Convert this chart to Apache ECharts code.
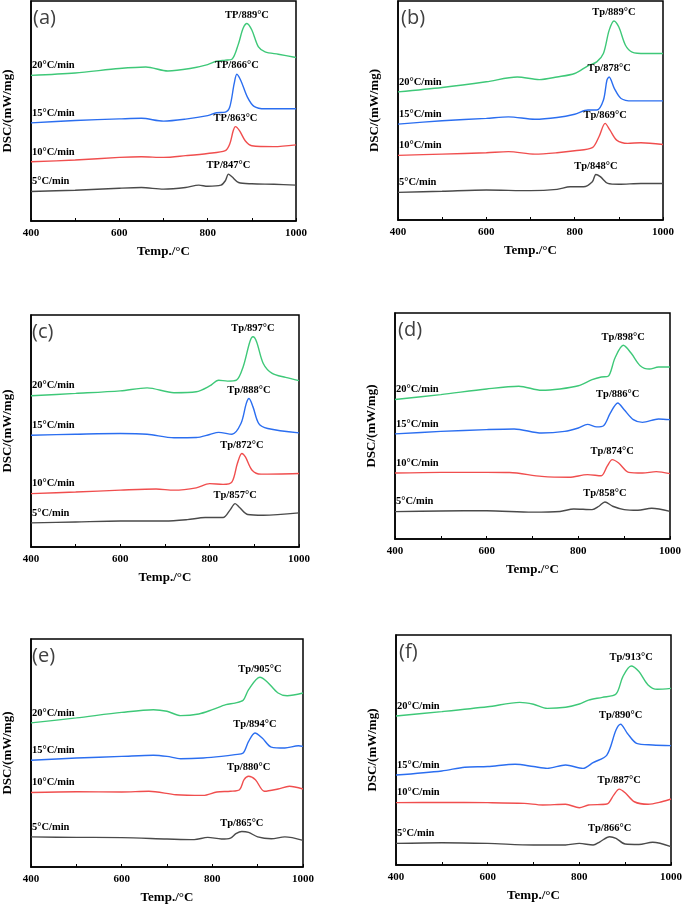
<!DOCTYPE html>
<html><head><meta charset="utf-8">
<script src="https://cdn.jsdelivr.net/npm/echarts@6/dist/echarts.min.js"></script>
<style>html,body{margin:0;padding:0;background:#fff}#c{width:685px;height:910px}</style>
</head><body><div id="c"></div>
<script>
// ---------- DATA ----------
const panelLetters = ['(a)','(b)','(c)','(d)','(e)','(f)'];
const rateLabels = ['20°C/min','15°C/min','10°C/min','5°C/min'];
const peakPrefix = ['TP/','Tp/','Tp/','Tp/','Tp/','Tp/'];
const xTickLabels = [400,600,800,1000];
const xAxisTitle = 'Temp./°C';
const yAxisTitle = 'DSC/(mW/mg)';
const peakTemps = [
  [889,866,863,847],
  [889,878,869,848],
  [897,888,872,857],
  [898,886,874,858],
  [905,894,880,865],
  [913,890,887,866]
];
// curves: [temperature °C, DSC signal (arbitrary offset units)]
const a20 = [[400,66.2],[500,67.3],[600,69.3],[660,70.0],[710,68.2],[760,69.3],[800,71.1],[820,72.6],[840,73.1],[855,73.5],[870,80.7],[880,87.5],[889,89.8],[900,86.8],[915,79.1],[930,76.9],[960,75.8],[1000,74.3]];
const a15 = [[400,44.6],[500,45.7],[600,46.4],[650,46.7],[700,45.4],[750,46.3],[800,47.9],[820,49.2],[840,49.5],[850,51.8],[860,62.4],[866,66.7],[875,63.9],[890,56.3],[905,52.1],[930,51.0],[1000,51.0]];
const a10 = [[400,26.9],[500,27.7],[600,28.9],[650,29.2],[700,28.9],[750,29.7],[800,30.7],[840,32.0],[850,35.0],[858,41.1],[863,42.9],[872,41.1],[885,36.5],[900,34.2],[950,33.8],[1000,34.6]];
const a5  = [[400,13.4],[500,14.0],[600,14.9],[650,15.2],[700,14.5],[750,15.2],[780,16.3],[800,15.8],[830,16.3],[840,18.3],[847,21.3],[855,20.1],[870,17.5],[900,16.9],[950,16.7],[1000,16.3]];

const b20 = [[400,58.5],[500,60.5],[600,63.1],[670,65.3],[720,64.1],[760,65.3],[800,66.9],[830,70.4],[850,72.2],[865,76.0],[878,86.6],[889,90.9],[900,88.1],[915,79.8],[930,76.7],[960,76.0],[1000,76.0]];
const b15 = [[400,43.8],[500,45.3],[600,46.4],[650,47.1],[710,46.0],[760,46.8],[800,48.3],[830,50.2],[850,50.2],[865,54.7],[873,63.8],[878,65.3],[890,60.0],[905,55.5],[930,54.4],[1000,54.4]];
const b10 = [[400,29.5],[500,30.1],[600,30.7],[650,31.2],[710,30.1],[760,30.7],[800,31.6],[840,33.0],[855,38.0],[869,44.1],[880,41.0],[895,36.5],[920,35.0],[950,35.3],[1000,34.5]];
const b5  = [[400,12.6],[500,13.1],[600,13.7],[700,13.4],[760,14.0],[790,15.2],[820,15.2],[840,17.5],[848,20.8],[858,19.8],[875,16.7],[900,16.3],[950,16.7],[1000,16.7]];

const c20 = [[400,65.2],[500,66.2],[600,67.3],[660,68.6],[720,66.5],[770,66.9],[800,69.4],[820,71.9],[840,71.5],[860,71.9],[875,77.7],[890,88.5],[897,90.6],[905,88.5],[920,79.1],[940,74.8],[970,73.1],[1000,71.7]];
const c15 = [[400,48.2],[500,48.6],[600,48.9],[660,48.6],[720,47.1],[770,47.2],[800,48.5],[820,49.4],[850,48.6],[870,53.2],[882,61.9],[888,64.0],[897,60.4],[910,53.2],[930,51.1],[1000,49.2]];
const c10 = [[400,23.0],[500,23.7],[600,24.5],[680,25.0],[720,24.5],[770,25.5],[800,27.3],[830,27.0],[850,28.1],[862,36.0],[872,40.3],[880,38.8],[895,33.1],[915,31.4],[1000,31.7]];
const c5  = [[400,10.4],[500,10.8],[600,11.2],[700,11.2],[750,11.8],[790,12.7],[830,12.7],[845,15.8],[857,18.7],[867,17.0],[885,14.0],[920,13.7],[1000,14.7]];

const d20 = [[400,61.7],[500,63.9],[600,66.4],[670,67.6],[720,65.8],[760,66.4],[800,67.8],[830,70.5],[850,71.7],[865,72.0],[880,80.1],[898,85.7],[915,82.3],[935,76.7],[955,75.2],[975,76.1],[1000,76.1]];
const d15 = [[400,46.5],[500,47.6],[600,48.4],[660,48.7],[720,46.9],[770,47.6],[800,49.1],[820,50.7],[840,49.6],[855,50.1],[870,55.8],[886,60.2],[900,57.2],[920,52.8],[940,51.6],[975,53.1],[1000,52.8]];
const d10 = [[400,29.2],[500,29.5],[600,29.5],[650,29.4],[720,27.7],[780,27.3],[820,28.5],[850,28.0],[863,32.2],[874,35.1],[888,33.6],[910,29.5],[940,29.2],[970,29.8],[1000,28.9]];
const d5  = [[400,12.1],[500,12.4],[600,12.5],[700,11.9],[760,12.2],[790,13.3],[830,13.0],[845,14.5],[858,16.4],[875,14.5],[900,13.0],[930,12.7],[960,13.6],[1000,12.2]];

const e20 = [[400,63.2],[500,65.4],[600,67.8],[670,69.0],[700,68.3],[730,66.4],[770,67.1],[800,69.0],[830,71.2],[850,71.9],[868,73.1],[880,77.8],[905,83.2],[920,81.4],[945,76.3],[965,75.1],[1000,76.3]];
const e15 = [[400,46.8],[500,47.8],[600,48.5],[670,49.0],[700,48.5],[730,47.5],[780,47.8],[820,48.5],[850,49.3],[868,50.0],[880,55.1],[894,58.8],[910,56.6],[930,52.6],[960,52.2],[990,53.2],[1000,52.9]];
const e10 = [[400,32.7],[500,33.0],[600,32.9],[660,33.2],[720,31.7],[780,31.4],[810,32.9],[840,33.2],[860,33.9],[870,38.3],[880,39.8],[895,38.3],[915,33.2],[945,34.2],[970,35.4],[1000,34.2]];
const e5  = [[400,13.2],[500,13.0],[600,12.9],[700,12.3],[760,12.0],[790,13.0],[820,12.3],[840,12.7],[852,14.6],[865,15.6],[880,15.2],[900,13.2],[930,12.4],[960,13.2],[1000,11.7]];

const f20 = [[400,64.8],[500,66.7],[600,68.8],[670,70.7],[700,69.9],[730,68.1],[770,68.6],[800,70.0],[820,71.7],[850,72.9],[880,74.3],[895,81.9],[913,86.5],[930,84.1],[950,78.3],[970,76.4],[1000,76.8]];
const f15 = [[400,39.1],[500,40.9],[550,42.5],[600,42.8],[660,43.8],[700,42.8],[730,42.0],[770,43.5],[808,42.0],[830,44.5],[860,47.8],[880,58.7],[890,61.2],[905,57.2],[925,52.9],[960,52.2],[1000,51.9]];
const f10 = [[400,27.1],[500,27.2],[600,27.1],[680,26.8],[720,26.1],[770,26.4],[800,24.9],[820,26.1],[860,26.5],[875,30.4],[887,33.0],[900,31.4],[920,27.5],[950,26.4],[980,27.5],[1000,28.7]];
const f5  = [[400,9.4],[500,9.7],[600,9.4],[700,8.7],[770,8.7],[800,9.4],[830,8.7],[845,10.1],[866,12.3],[880,11.6],[900,9.1],[930,8.9],[960,9.9],[1000,8.0]];

const panelCurves = [
  [a20,a15,a10,a5],[b20,b15,b10,b5],[c20,c15,c10,c5],
  [d20,d15,d10,d5],[e20,e15,e10,e5],[f20,f15,f10,f5]
];

// ---------- LAYOUT / STYLE ----------
const grids = [
  {left:30,  top:1,   width:266, height:220},
  {left:398, top:1,   width:265, height:219},
  {left:29,  top:315, width:270, height:232},
  {left:395, top:313, width:275, height:226},
  {left:29,  top:639, width:274, height:228},
  {left:396, top:635, width:277, height:230}
];
const colors = ['#3ec878','#2b6ef0','#f04e4e','#4a4a4a'];
const serif = '"Liberation Serif","Times New Roman",serif';

function valueAt(curve, t){
  for (const p of curve) if (p[0] === t) return p[1];
  let best = curve[0];
  for (const p of curve) if (p[1] > best[1]) best = p;
  return best[1];
}

const option = {
  animation:false,
  backgroundColor:'#fff',
  grid: grids.map(g => Object.assign({show:true, borderColor:'#000', borderWidth:1.5, backgroundColor:'transparent'}, g)),
  xAxis: grids.map((g,i) => ({
    type:'value', gridIndex:i, min:400, max:1000, interval:100,
    name:xAxisTitle, nameLocation:'middle', nameGap:24,
    nameTextStyle:{fontFamily:serif, fontWeight:'bold', fontSize:13, color:'#000'},
    axisLine:{show:true, onZero:false, lineStyle:{color:'#000', width:1.5}},
    axisTick:{show:true, inside:true, length:3, lineStyle:{color:'#000'}},
    axisLabel:{interval:1, margin:7, fontFamily:serif, fontWeight:'bold', fontSize:11, color:'#000',
      formatter: v => xTickLabels.includes(v) ? String(v) : ''},
    splitLine:{show:false}
  })),
  yAxis: grids.map((g,i) => ({
    type:'value', gridIndex:i, min:0, max:100,
    name:yAxisTitle, nameLocation:'middle', nameGap:17,
    nameTextStyle:{fontFamily:serif, fontWeight:'bold', fontSize:13, color:'#000'},
    axisLine:{show:true, lineStyle:{color:'#000', width:1.5}},
    axisTick:{show:false}, axisLabel:{show:false}, splitLine:{show:false}
  })),
  series: [],
  graphic: grids.map((g,i) => ({
    type:'text', left:g.left+3, top:g.top+7,
    style:{text:panelLetters[i], font:'20px "Open Sans","DejaVu Sans",sans-serif', fill:'#404040'}
  }))
};

panelCurves.forEach((curves, p) => {
  curves.forEach((curve, r) => {
    const pt = peakTemps[p][r];
    option.series.push({
      type:'line', xAxisIndex:p, yAxisIndex:p, data:curve,
      showSymbol:false, smooth:0.3,
      lineStyle:{color:colors[r], width:1.4},
      itemStyle:{color:colors[r]},
      markPoint:{
        symbol:'circle', symbolSize:0, silent:true,
        data:[
          {coord:[pt, valueAt(curve, pt)], label:{show:true, position:'top', distance:3,
            formatter: peakPrefix[p] + pt + '°C', fontFamily:serif, fontWeight:'bold', fontSize:10.5, color:'#000'}},
          {coord:[curve[0][0], curve[0][1]], label:{show:true, position:'right', distance:1, offset:[0,-10],
            formatter: rateLabels[r], fontFamily:serif, fontWeight:'bold', fontSize:10.5, color:'#000'}}
        ]
      }
    });
  });
});

const chart = echarts.init(document.getElementById('c'), null, {renderer:'canvas'});
chart.setOption(option);
</script>
</body></html>
